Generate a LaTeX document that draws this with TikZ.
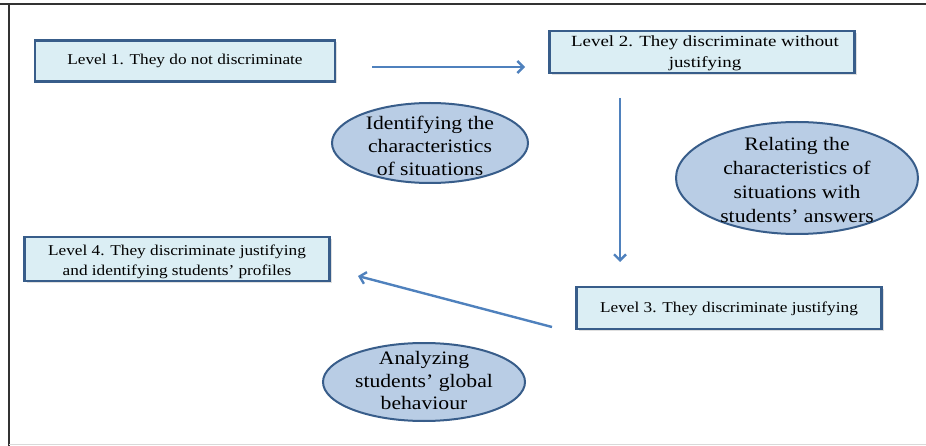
\documentclass[tikz,border=0pt]{standalone}
\usepackage{fontspec}
\setmainfont{Liberation Serif}
\newfontfamily\boxfont[FakeStretch=1.15]{Liberation Serif}
\newfontfamily\boxfontb[FakeStretch=1.22]{Liberation Serif}
\newfontfamily\ellfont[FakeStretch=1.14]{Liberation Serif}
\usetikzlibrary{shapes.geometric,arrows.meta,shadows}
\definecolor{boxfill}{HTML}{DBEEF4}
\definecolor{boxline}{HTML}{385D8A}
\definecolor{ellfill}{HTML}{B9CDE5}
\definecolor{arrowc}{HTML}{4F81BD}
\tikzset{
  levelbox/.style={draw=boxline, line width=2.2pt, fill=boxfill, inner sep=0pt,
    drop shadow={shadow xshift=2pt, shadow yshift=-2pt, opacity=0.25}},
  boxtext/.style={align=center, inner sep=0pt, font=\boxfont\fontsize{15}{20}\selectfont},
  actell/.style={ellipse, draw=boxline, line width=2pt, fill=ellfill, inner sep=0pt},
  elltext/.style={align=center, inner sep=0pt},
  flow/.style={draw=arrowc, line width=2.4pt, -{Straight Barb[length=6pt,width=12pt,line width=2.4pt]}}
}
\begin{document}
\begin{tikzpicture}[x=1pt,y=-1pt]
\useasboundingbox (0,0) rectangle (926,446);
\draw[line width=1.5pt, black!80] (0,4) -- (926,4);
\draw[line width=1.5pt, black!80] (9,4) -- (9,446);
\draw[line width=0.6pt, black!15] (9,444) -- (926,444);

\node[levelbox, minimum width=300pt, minimum height=41pt] (l1) at (185,61) {};
\node[boxtext] (l1t) at (185,61) {Level 1. They do not discriminate};
\node[levelbox, minimum width=305pt, minimum height=42pt] (l2) at (702,52) {};
\node[boxtext, font=\boxfontb\fontsize{15.5}{21}\selectfont] (l2t) at (705,53) {Level 2. They discriminate without\\justifying};
\node[levelbox, minimum width=305pt, minimum height=42pt] (l3) at (729,308) {};
\node[boxtext] (l3t) at (729,309) {Level 3. They discriminate justifying};
\node[levelbox, minimum width=305pt, minimum height=44pt] (l4) at (177,259) {};
\node[boxtext] (l4t) at (177,262) {Level 4. They discriminate justifying\\and identifying students’ profiles};

\node[actell, minimum width=196pt, minimum height=80pt] (e1) at (430,143) {};
\node[elltext, font=\ellfont\fontsize{19}{23}\selectfont] (e1t) at (430,146) {Identifying the\\characteristics\\of situations};
\node[actell, minimum width=242pt, minimum height=112pt] (e2) at (797,178) {};
\node[elltext, font=\ellfont\fontsize{19}{24}\selectfont] (e2t) at (797,180) {Relating the\\characteristics of\\situations with\\students’ answers};
\node[actell, minimum width=202pt, minimum height=78pt] (e3) at (424,382) {};
\node[elltext, font=\ellfont\fontsize{19}{22.5}\selectfont] (e3t) at (424,381) {Analyzing\\students’ global\\behaviour};

\coordinate (a1s) at (372,67);
\coordinate (a1e) at (525,67);
\coordinate (a2s) at (620,98);
\coordinate (a2e) at (620,262);
\coordinate (a3s) at (552,327);
\coordinate (a3e) at (358,276);
\draw[flow] (a1s) -- (a1e);
\draw[flow] (a2s) -- (a2e);
\draw[flow] (a3s) -- (a3e);
\end{tikzpicture}
\end{document}
